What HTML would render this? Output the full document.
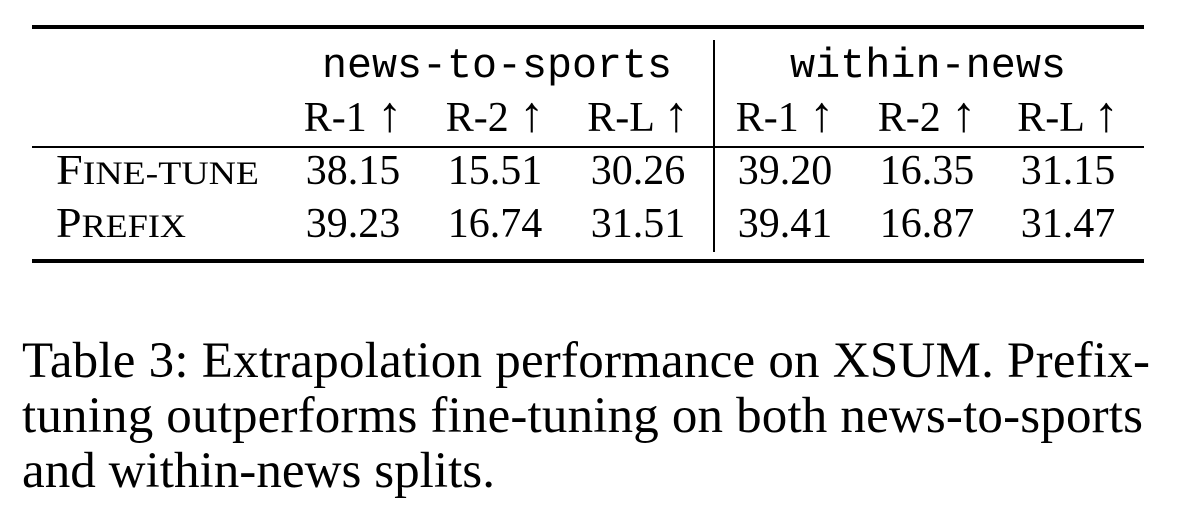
<!DOCTYPE html>
<html><head><meta charset="utf-8"><style>
html,body{margin:0;padding:0;background:#fff;}
svg{display:block;}
text{font-family:"Liberation Serif",serif;fill:#000;}
.m{font-family:"Liberation Mono",monospace;}
.a{font-size:50px;}
</style></head><body>
<svg width="1188" height="520" viewBox="0 0 1188 520" xmlns="http://www.w3.org/2000/svg">
<rect x="32" y="25" width="1112" height="4" fill="#000"/>
<rect x="32" y="146" width="1112" height="2" fill="#000"/>
<rect x="32" y="259" width="1112" height="4" fill="#000"/>
<rect x="713" y="40" width="2" height="212" fill="#000"/>
<g font-size="42" text-anchor="middle">
<text class="m" x="497" y="77" textLength="350" lengthAdjust="spacingAndGlyphs">news-to-sports</text>
<text class="m" x="928" y="77" textLength="276" lengthAdjust="spacingAndGlyphs">within-news</text>
<text x="353" y="131">R-1 <tspan class="a">↑</tspan></text>
<text x="495" y="131">R-2 <tspan class="a">↑</tspan></text>
<text x="638" y="131">R-L <tspan class="a">↑</tspan></text>
<text x="785" y="131">R-1 <tspan class="a">↑</tspan></text>
<text x="927" y="131">R-2 <tspan class="a">↑</tspan></text>
<text x="1068" y="131">R-L <tspan class="a">↑</tspan></text>
<text x="353" y="184">38.15</text>
<text x="495" y="184">15.51</text>
<text x="638" y="184">30.26</text>
<text x="785" y="184">39.20</text>
<text x="927" y="184">16.35</text>
<text x="1068" y="184">31.15</text>
<text x="353" y="237">39.23</text>
<text x="495" y="237">16.74</text>
<text x="638" y="237">31.51</text>
<text x="785" y="237">39.41</text>
<text x="927" y="237">16.87</text>
<text x="1068" y="237">31.47</text>
</g>
<g font-size="42">
<text x="56" y="184" textLength="203" lengthAdjust="spacingAndGlyphs">F<tspan font-size="33">INE-TUNE</tspan></text>
<text x="56" y="237" textLength="130" lengthAdjust="spacingAndGlyphs">P<tspan font-size="33">REFIX</tspan></text>
</g>
<g font-size="51">
<text x="22" y="377" textLength="1128" lengthAdjust="spacing">Table 3:  Extrapolation performance on XSUM. Prefix-</text>
<text x="22" y="432" textLength="1121" lengthAdjust="spacing">tuning outperforms fine-tuning on both news-to-sports</text>
<text x="22" y="487" textLength="473" lengthAdjust="spacingAndGlyphs">and within-news splits.</text>
</g>
</svg>
</body></html>
